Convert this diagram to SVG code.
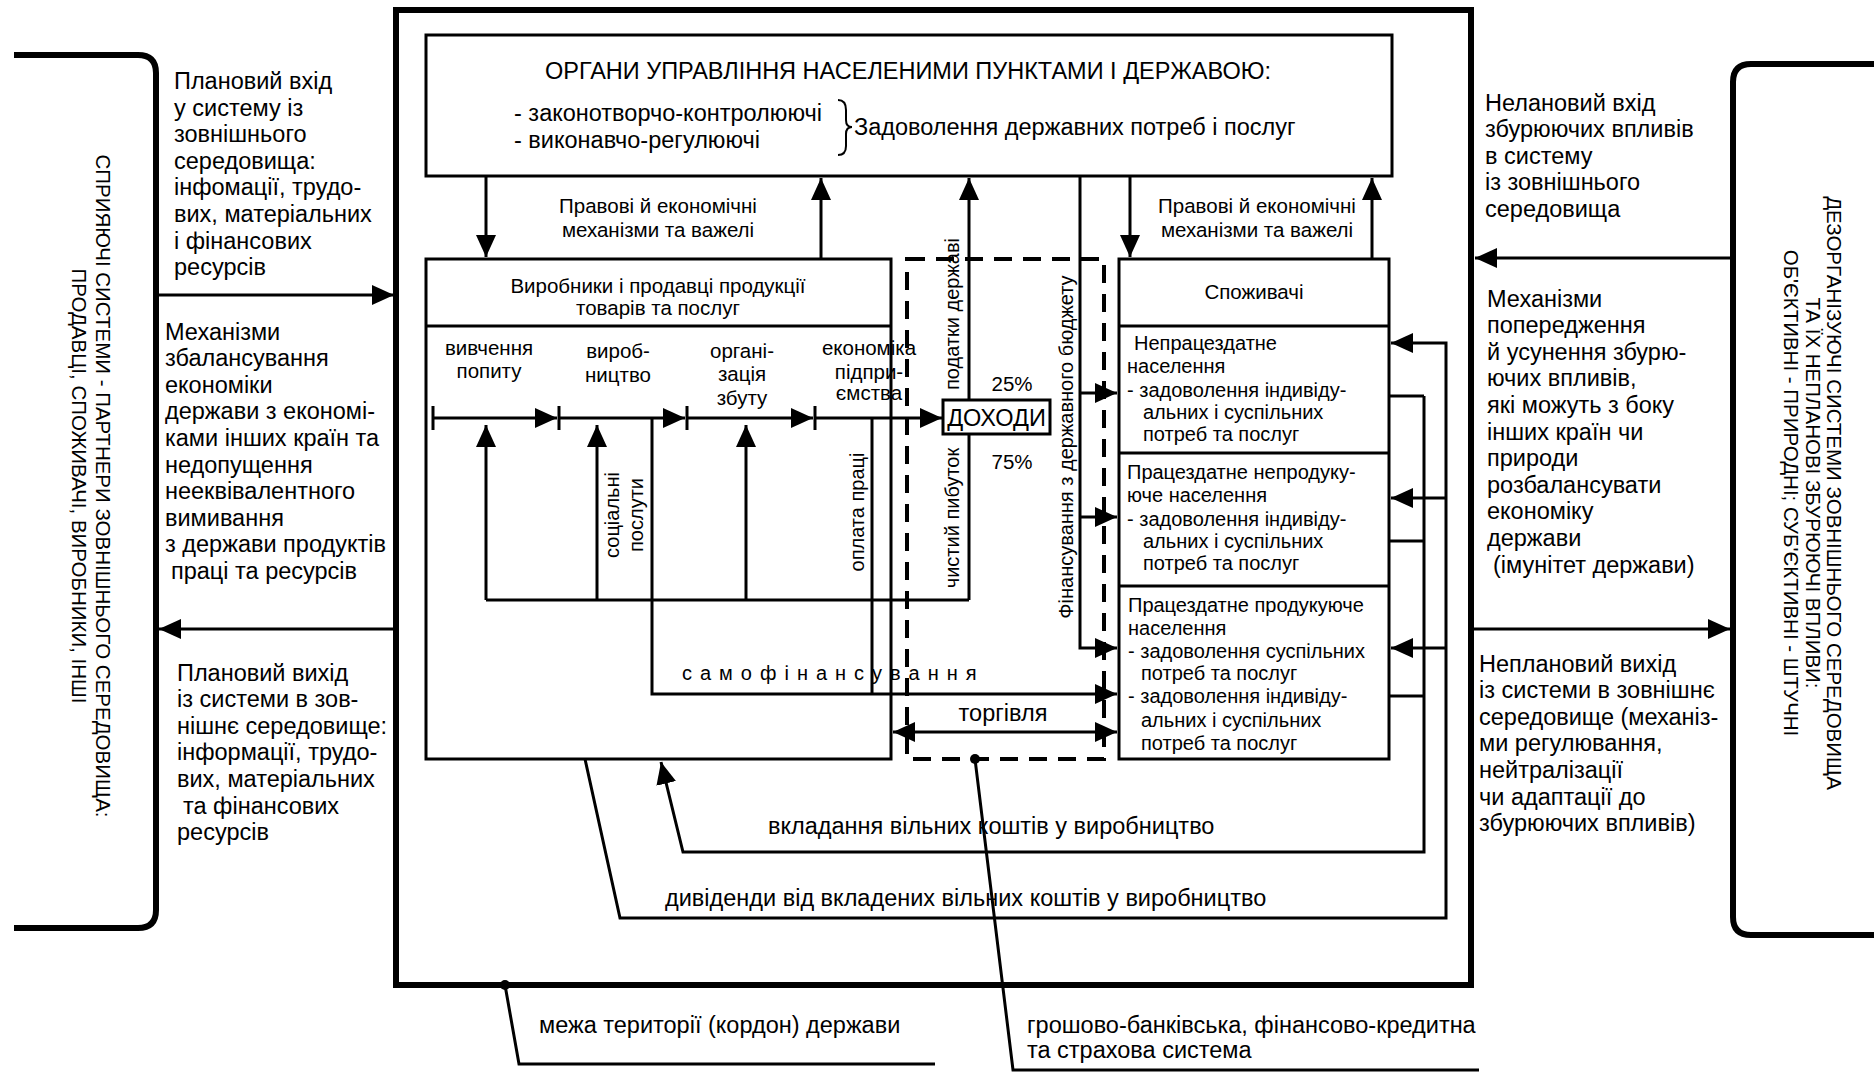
<svg xmlns="http://www.w3.org/2000/svg" width="1876" height="1076" viewBox="0 0 1876 1076">
<style>
text{font-family:"Liberation Sans",Arial,sans-serif;fill:#000}
.f23{font-size:23.5px}
.f20{font-size:20px}
.f21{font-size:20.5px}
.m{text-anchor:middle}
.ln{stroke:#000;stroke-width:3;fill:none}
.thick{stroke:#000;stroke-width:6;fill:none}
.bx{stroke:#000;stroke-width:3;fill:#fff}
.dash{stroke:#000;stroke-width:4;fill:none;stroke-dasharray:18 11}
.arr{marker-end:url(#ah)}
</style>
<defs>
<marker id="ah" markerUnits="userSpaceOnUse" markerWidth="22" markerHeight="20" refX="22" refY="10" orient="auto-start-reverse">
<path d="M0,0 L22,10 L0,20 z" fill="#000"/>
</marker>
</defs>
<rect width="1876" height="1076" fill="#fff"/>

<g id="state-border">
<rect x="396" y="10" width="1075" height="975" class="thick"/>
</g>

<g id="left-environment">
<path d="M14,55 H138 Q156,55 156,73 V910 Q156,928 138,928 H14" class="thick"/>
<text class="f21 m" transform="translate(96,486) rotate(90)">СПРИЯЮЧІ СИСТЕМИ - ПАРТНЕРИ ЗОВНІШНЬОГО СЕРЕДОВИЩА:</text>
<text class="f21 m" transform="translate(72,486) rotate(90)">ПРОДАВЦІ, СПОЖИВАЧІ, ВИРОБНИКИ, ІНШІ</text>
</g>

<g id="right-environment">
<path d="M1874,64 H1751 Q1733,64 1733,82 V917 Q1733,935 1751,935 H1874" class="thick"/>
<text class="f21 m" transform="translate(1827,493) rotate(90)">ДЕЗОРГАНІЗУЮЧІ СИСТЕМИ ЗОВНІШНЬОГО СЕРЕДОВИЩА</text>
<text class="f21 m" transform="translate(1806,493) rotate(90)">ТА ЇХ НЕПЛАНОВІ ЗБУРЮЮЧІ ВПЛИВИ:</text>
<text class="f21 m" transform="translate(1784,493) rotate(90)">ОБ'ЄКТИВНІ - ПРИРОДНІ; СУБ'ЄКТИВНІ - ШТУЧНІ</text>
</g>

<g id="side-labels">
<text class="f23"><tspan x="174" y="89">Плановий вхід</tspan><tspan x="174" y="115.6">у систему із</tspan><tspan x="174" y="142.2">зовнішнього</tspan><tspan x="174" y="168.8">середовища:</tspan><tspan x="174" y="195.4">інфомації, трудо-</tspan><tspan x="174" y="222">вих, матеріальних</tspan><tspan x="174" y="248.6">і фінансових</tspan><tspan x="174" y="275.2">ресурсів</tspan></text>
<text class="f23"><tspan x="165" y="339.5">Механізми</tspan><tspan x="165" y="366.1">збалансування</tspan><tspan x="165" y="392.7">економіки</tspan><tspan x="165" y="419.3">держави з економі-</tspan><tspan x="165" y="445.9">ками інших країн та</tspan><tspan x="165" y="472.5">недопущення</tspan><tspan x="165" y="499.1">нееквівалентного</tspan><tspan x="165" y="525.7">вимивання</tspan><tspan x="165" y="552.3">з держави продуктів</tspan><tspan x="171" y="578.9">праці та ресурсів</tspan></text>
<text class="f23"><tspan x="177" y="680.5">Плановий вихід</tspan><tspan x="177" y="707.1">із системи в зов-</tspan><tspan x="177" y="733.7">нішнє середовище:</tspan><tspan x="177" y="760.3">інформації, трудо-</tspan><tspan x="177" y="786.9">вих, матеріальних</tspan><tspan x="183" y="813.5">та фінансових</tspan><tspan x="177" y="840.1">ресурсів</tspan></text>
<text class="f23"><tspan x="1485" y="110.5">Нелановий вхід</tspan><tspan x="1485" y="137.1">збурюючих впливів</tspan><tspan x="1485" y="163.7">в систему</tspan><tspan x="1485" y="190.3">із зовнішнього</tspan><tspan x="1485" y="216.9">середовища</tspan></text>
<text class="f23"><tspan x="1487" y="306.5">Механізми</tspan><tspan x="1487" y="333.1">попередження</tspan><tspan x="1487" y="359.7">й усунення збурю-</tspan><tspan x="1487" y="386.3">ючих впливів,</tspan><tspan x="1487" y="412.9">які можуть з боку</tspan><tspan x="1487" y="439.5">інших країн чи</tspan><tspan x="1487" y="466.1">природи</tspan><tspan x="1487" y="492.7">розбалансувати</tspan><tspan x="1487" y="519.3">економіку</tspan><tspan x="1487" y="545.9">держави</tspan><tspan x="1493" y="572.5">(імунітет держави)</tspan></text>
<text class="f23"><tspan x="1479" y="671.5">Неплановий вихід</tspan><tspan x="1479" y="698.1">із системи в зовнішнє</tspan><tspan x="1479" y="724.7">середовище (механіз-</tspan><tspan x="1479" y="751.3">ми регулювання,</tspan><tspan x="1479" y="777.9">нейтралізації</tspan><tspan x="1479" y="804.5">чи адаптації до</tspan><tspan x="1479" y="831.1">збурюючих впливів)</tspan></text>
</g>

<g id="government">
<rect x="426" y="35" width="966" height="141" class="bx"/>
<text class="f23 m" x="908" y="79">ОРГАНИ УПРАВЛІННЯ НАСЕЛЕНИМИ ПУНКТАМИ І ДЕРЖАВОЮ:</text>
<text class="f23" x="514" y="121">- законотворчо-контролюючі</text>
<text class="f23" x="514" y="148">- виконавчо-регулюючі</text>
<path d="M838,100 Q846,100 846,110 V120 Q846,127 852,127 Q846,127 846,134 V146 Q846,155 838,155" fill="none" stroke="#000" stroke-width="2"/>
<text class="f23" x="854" y="135">Задоволення державних потреб і послуг</text>
</g>

<g id="producers">
<rect x="426" y="259" width="465" height="500" class="bx"/>
<line x1="426" y1="326" x2="891" y2="326" class="ln"/>
<text class="f21 m"><tspan x="658" y="293">Виробники і продавці продукції</tspan><tspan x="658" y="315">товарів та послуг</tspan></text>
<text class="f21 m"><tspan x="489" y="355">вивчення</tspan><tspan x="489" y="378">попиту</tspan></text>
<text class="f21 m"><tspan x="618" y="358">вироб-</tspan><tspan x="618" y="382">ництво</tspan></text>
<text class="f21 m"><tspan x="742" y="358">органі-</tspan><tspan x="742" y="381">зація</tspan><tspan x="742" y="405">збуту</tspan></text>
<text class="f21 m"><tspan x="869" y="355">економіка</tspan><tspan x="869" y="379">підпри-</tspan><tspan x="869" y="400">ємства</tspan></text>
</g>

<g id="banking-system">
<rect x="907" y="259" width="197" height="500" class="dash"/>
<circle cx="975" cy="759" r="5" fill="#000"/>
</g>

<g id="consumers">
<rect x="1119" y="259" width="270" height="500" class="bx"/>
<line x1="1119" y1="326" x2="1389" y2="326" class="ln"/>
<line x1="1119" y1="453" x2="1389" y2="453" class="ln"/>
<line x1="1119" y1="586" x2="1389" y2="586" class="ln"/>
<text class="f21 m" x="1254" y="299">Споживачі</text>
<text class="f20"><tspan x="1134" y="350">Непрацездатне</tspan><tspan x="1127" y="373">населення</tspan><tspan x="1127" y="397">- задоволення індивіду-</tspan><tspan x="1143" y="419">альних і суспільних</tspan><tspan x="1143" y="441">потреб та послуг</tspan></text>
<text class="f20"><tspan x="1127" y="479">Працездатне непродуку-</tspan><tspan x="1127" y="502">юче населення</tspan><tspan x="1127" y="526">- задоволення індивіду-</tspan><tspan x="1143" y="548">альних і суспільних</tspan><tspan x="1143" y="570">потреб та послуг</tspan></text>
<text class="f20"><tspan x="1128" y="612">Працездатне продукуюче</tspan><tspan x="1128" y="635">населення</tspan><tspan x="1128" y="658">- задоволення суспільних</tspan><tspan x="1141" y="680">потреб та послуг</tspan><tspan x="1128" y="703">- задоволення індивіду-</tspan><tspan x="1141" y="727">альних і суспільних</tspan><tspan x="1141" y="750">потреб та послуг</tspan></text>
</g>

<g id="connectors">
<!-- external inputs / outputs -->
<path d="M156,295 H394" class="ln arr"/>
<path d="M396,629 H159" class="ln arr"/>
<path d="M1733,258 H1475" class="ln arr"/>
<path d="M1471,629 H1730" class="ln arr"/>
<!-- government <-> producers / consumers -->
<path d="M486,176 V257" class="ln arr"/>
<path d="M821,259 V178" class="ln arr"/>
<path d="M1130,176 V257" class="ln arr"/>
<path d="M1372,259 V178" class="ln arr"/>
<!-- process chain -->
<path d="M433,418 H557" class="ln arr"/>
<path d="M559,418 H685" class="ln arr"/>
<path d="M687,418 H813" class="ln arr"/>
<path d="M815,418 H942" class="ln arr"/>
<path d="M433,406 V430 M559,406 V430 M687,406 V430 M815,406 V430" class="ln"/>
<!-- feedback loop inside producers -->
<path d="M486,600 H969" class="ln"/>
<path d="M486,600 V425" class="ln arr"/>
<path d="M597,600 V425" class="ln arr"/>
<path d="M746,600 V425" class="ln arr"/>
<path d="M969,600 V178" class="ln arr"/>
<!-- self-financing -->
<path d="M652,418 V694 H1117" class="ln arr"/>
<path d="M872,418 V694" class="ln"/>
<!-- trade -->
<path d="M893,732 H1117" class="ln arr" marker-start="url(#ah)"/>
<!-- budget financing -->
<path d="M1080,176 V648 H1117" class="ln arr"/>
<path d="M1080,393 H1117" class="ln arr"/>
<path d="M1080,517 H1117" class="ln arr"/>
<!-- investment of free funds -->
<path d="M1389,396 H1424 M1389,541 H1424 M1389,696 H1424" class="ln"/>
<path d="M1424,396 V852 H683 L661,762" class="ln arr"/>
<!-- dividends -->
<path d="M585,759 L620,918 H1446 V343 H1391" class="ln arr"/>
<path d="M1446,498 H1391" class="ln arr"/>
<path d="M1446,648 H1391" class="ln arr"/>
<!-- leaders -->
<circle cx="505" cy="985" r="5" fill="#000"/>
<path d="M505,985 L519,1064 H935" class="ln"/>
<path d="M975,759 L1013,1070 H1479" class="ln"/>
</g>

<g id="incomes">
<rect x="943" y="400" width="107" height="34" class="bx"/>
<text class="f23 m" x="996.5" y="426">ДОХОДИ</text>
<text class="f21 m" x="1012" y="391">25%</text>
<text class="f21 m" x="1012" y="469">75%</text>
</g>

<g id="flow-labels">
<text class="f21 m"><tspan x="658" y="213">Правові й економічні</tspan><tspan x="658" y="237">механізми та важелі</tspan></text>
<text class="f21 m"><tspan x="1257" y="213">Правові й економічні</tspan><tspan x="1257" y="237">механізми та важелі</tspan></text>
<text class="f20 m" transform="translate(959,314) rotate(-90)">податки державі</text>
<text class="f20 m" transform="translate(959,518) rotate(-90)">чистий пибуток</text>
<text class="f20 m" transform="translate(1073,447) rotate(-90)">Фінансування з державного бюджету</text>
<text class="f20 m" transform="translate(864,512) rotate(-90)">оплата праці</text>
<text class="f20 m" transform="translate(619,515) rotate(-90)">соціальні</text>
<text class="f20 m" transform="translate(643,515) rotate(-90)">послути</text>
<text class="f20" x="682" y="680" letter-spacing="8">самофінансування</text>
<text class="f23 m" x="1003" y="721">торгівля</text>
<text class="f23" x="768" y="834">вкладання вільних коштів у виробництво</text>
<text class="f23" x="665" y="906">дивіденди від вкладених вільних коштів у виробництво</text>
<text class="f23" x="539" y="1033">межа території (кордон) держави</text>
<text class="f23"><tspan x="1027" y="1033">грошово-банківська, фінансово-кредитна</tspan><tspan x="1027" y="1058">та страхова система</tspan></text>
</g>
</svg>
